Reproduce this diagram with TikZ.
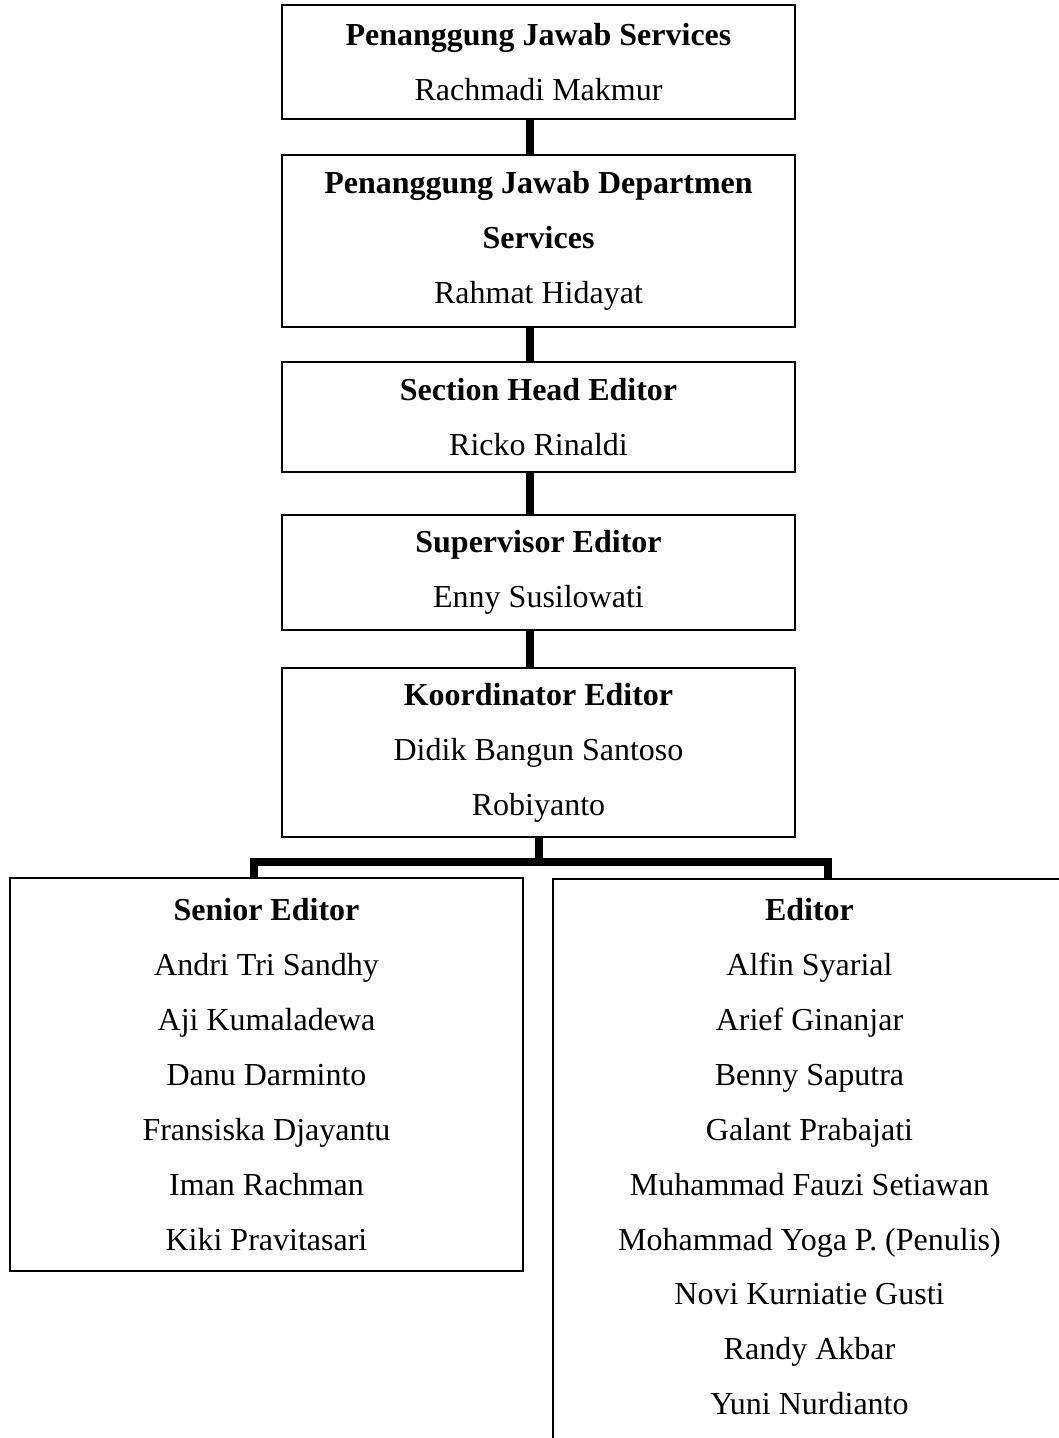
\documentclass[tikz,border=0pt]{standalone}
\usepackage{fontspec}
\setmainfont{Liberation Serif}
\usetikzlibrary{calc}

\begin{document}
\begin{tikzpicture}[
        x=0.375pt, y=-0.375pt,
        post/.style={draw, line width=0.75pt, minimum width=192.4pt,
                     inner sep=0pt, align=center,
                     font=\fontsize{12}{20.6}\selectfont},
        link/.style={line width=3pt},
    ]
    \useasboundingbox (0, 0) rectangle (1059, 1438);

    \node[post, minimum height=42.75pt] (pjs) at (538.5, 62)
        {\textbf{Penanggung Jawab Services}\\Rachmadi Makmur};
    \node[post, minimum height=64.5pt] (pjd) at (538.5, 241)
        {\textbf{Penanggung Jawab Departmen}\\\textbf{Services}\\Rahmat Hidayat};
    \node[post, minimum height=41.25pt] (she) at (538.5, 417)
        {\textbf{Section Head Editor}\\Ricko Rinaldi};
    \node[post, minimum height=43.1pt] (spv) at (538.5, 572.5)
        {\textbf{Supervisor Editor}\\Enny Susilowati};
    \node[post, minimum height=63.4pt] (kor) at (538.5, 752.5)
        {\textbf{Koordinator Editor}\\Didik Bangun Santoso\\Robiyanto};

    \node[post, minimum height=147.4pt] (senior) at (266.5, 1074.5)
        {\textbf{Senior Editor}\\Andri Tri Sandhy\\Aji Kumaladewa\\
         Danu Darminto\\Fransiska Djayantu\\Iman Rachman\\Kiki Pravitasari};
    % box runs on past the bottom edge of the page
    \node[post, anchor=north, inner ysep=7.2pt, text depth=80pt] (editor) at (809.5, 878)
        {\textbf{Editor}\\Alfin Syarial\\Arief Ginanjar\\Benny Saputra\\
         Galant Prabajati\\Muhammad Fauzi Setiawan\\
         Mohammad Yoga P. (Penulis)\\Novi Kurniatie Gusti\\
         Randy Akbar\\Yuni Nurdianto};

    \foreach \a/\b in {pjs/pjd, pjd/she, she/spv, spv/kor}
        \draw[link] ($(\a.south)+(-8.5,0)$) -- ($(\b.north)+(-8.5,0)$);

    \coordinate (fork) at ($(kor.south)+(0,24)$);
    \draw[link] (kor.south) -- (fork);
    \draw[link] ($(senior.north)+(-12.5,0)$) |- (fork) -| ($(editor.north)+(18.5,0)$);

\end{tikzpicture}
\end{document}
